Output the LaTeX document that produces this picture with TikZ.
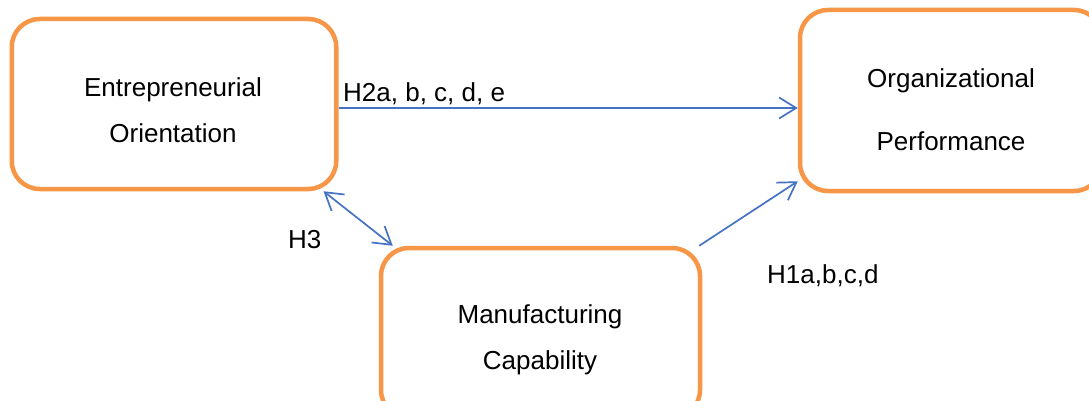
\documentclass[tikz,border=0pt]{standalone}
\usepackage{fontspec}
\setmainfont{Liberation Sans}
\usetikzlibrary{arrows.meta}
\definecolor{boxorange}{RGB}{247,150,70}
\definecolor{linkblue}{RGB}{68,114,196}

\begin{document}
\begin{tikzpicture}[x=1pt,y=-1pt,>={Straight Barb[length=17pt,width=21pt]}]
\tikzstyle{every node}+=[inner sep=0pt, font=\fontsize{26}{46}\selectfont]
\tikzstyle{box}=[draw=boxorange, line width=4.5pt, rounded corners=28pt]
\tikzstyle{link}=[draw=linkblue, line width=1.7pt]
\useasboundingbox (0,0) rectangle (1089,401);
% boxes
\node [box, minimum width=324.5pt, minimum height=170pt] (eo) at (174,104) {};
\node [align=center] (eotext) at (173,110.5) {Entrepreneurial\\Orientation};
\node [box, minimum width=302pt, minimum height=181pt] (op) at (951,100.5) {};
\node [align=center] (optext) at (951,110) {Organizational\\[17pt]Performance};
\node [box, minimum width=319pt, minimum height=170pt] (mc) at (540.5,333) {};
\node [align=center] (mctext) at (540,340) {Manufacturing\\Capability};
% connectors
\draw [link, ->] ([yshift=-4pt]eo.east) -- ([yshift=-4pt]eo.east -| op.west);
\draw [link, <->] ([xshift=-15pt]eo.south east) -- ([xshift=14pt]mc.north west);
\draw [link, ->] ([xshift=-3pt]mc.north east) -- ([yshift=12pt]op.south west);
% labels
\node [anchor=base west] (h2) at (343,102) {H2a, b, c, d, e};
\node [anchor=base west] (h3) at (288,248) {H3};
\node [anchor=base west] (h1) at (767,283) {H1a,b,c,d};
\end{tikzpicture}
\end{document}
